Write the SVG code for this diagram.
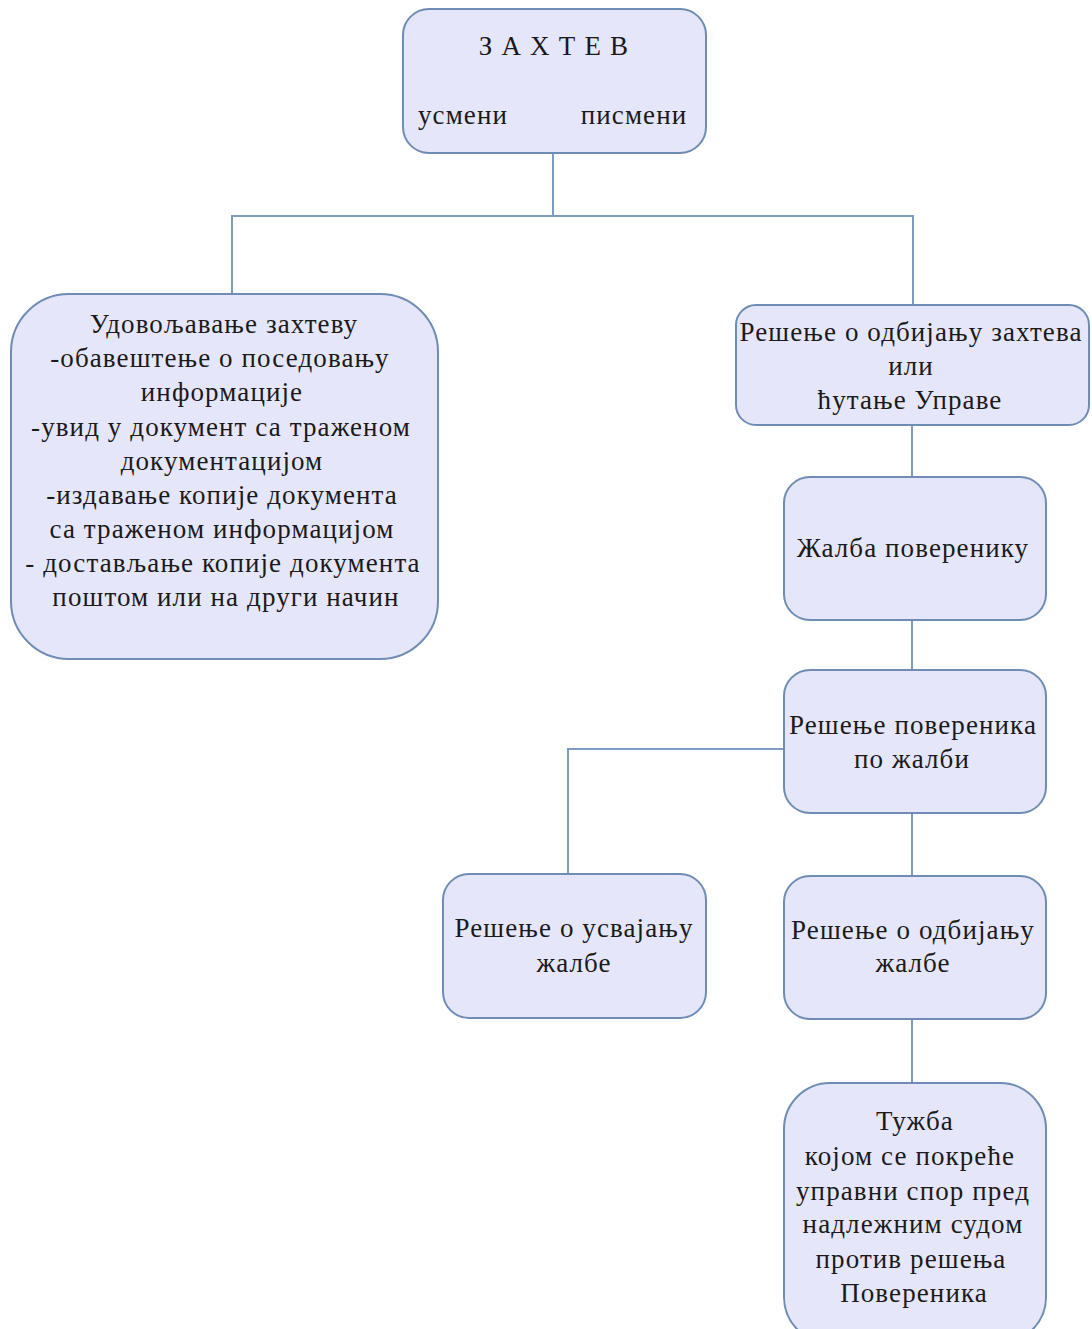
<svg xmlns="http://www.w3.org/2000/svg" width="1092" height="1329" viewBox="0 0 1092 1329">
<style>
.box{fill:#e6e6fa;stroke:#6f8cb4;stroke-width:2}
.ln{fill:none;stroke:#7f9cc0;stroke-width:2}
text{font-family:"Liberation Serif","Times New Roman",serif;font-size:27px;letter-spacing:1.1px;fill:#1a1a1a;text-anchor:middle}
</style>
<rect width="1092" height="1329" fill="#ffffff"/>
<g id="connectors">
<path class="ln" d="M553,153 V216 M232,295 V216 H913 V305"/>
<path class="ln" d="M912,425 V477"/>
<path class="ln" d="M912,620 V670"/>
<path class="ln" d="M784,749 H568 V874"/>
<path class="ln" d="M912,813 V876"/>
<path class="ln" d="M912,1019 V1083"/>
</g>
<g id="zahtev">
<rect class="box" x="403" y="9" width="303" height="144" rx="26"/>
<text x="554" y="55" style="letter-spacing:1.2px">З А Х Т Е В</text>
<text x="463" y="124">усмени</text>
<text x="634" y="124">писмени</text>
</g>
<g id="udovoljavanje">
<rect class="box" x="11" y="294" width="427" height="365" rx="58"/>
<text x="224" y="333">Удовољавање захтеву</text>
<text x="220" y="367">-обавештење о поседовању</text>
<text x="222" y="401">информације</text>
<text x="221" y="436">-увид у документ са траженом</text>
<text x="222" y="470">документацијом</text>
<text x="222" y="504">-издавање копије документа</text>
<text x="222" y="538">са траженом информацијом</text>
<text x="223" y="572">- достављање копије документа</text>
<text x="226" y="606">поштом или на други начин</text>
</g>
<g id="odbijanje-zahteva">
<rect class="box" x="736" y="305" width="353" height="120" rx="20"/>
<text x="911" y="341">Решење о одбијању захтева</text>
<text x="911" y="375">или</text>
<text x="910" y="409">ћутање Управе</text>
</g>
<g id="zalba">
<rect class="box" x="784" y="477" width="262" height="143" rx="26"/>
<text x="913" y="557">Жалба поверенику</text>
</g>
<g id="resenje-poverenika">
<rect class="box" x="784" y="670" width="262" height="143" rx="26"/>
<text x="913" y="734">Решење повереника</text>
<text x="912" y="768">по жалби</text>
</g>
<g id="usvajanje">
<rect class="box" x="443" y="874" width="263" height="144" rx="26"/>
<text x="574" y="937">Решење о усвајању</text>
<text x="574" y="972">жалбе</text>
</g>
<g id="odbijanje-zalbe">
<rect class="box" x="784" y="876" width="262" height="143" rx="26"/>
<text x="913" y="939">Решење о одбијању</text>
<text x="913" y="972">жалбе</text>
</g>
<g id="tuzba">
<rect class="box" x="784" y="1083" width="262" height="260" rx="46"/>
<text x="915" y="1130">Тужба</text>
<text x="910" y="1165">којом се покреће</text>
<text x="913" y="1200">управни спор пред</text>
<text x="913" y="1233">надлежним судом</text>
<text x="911" y="1268">против решења</text>
<text x="914" y="1302">Повереника</text>
</g>
</svg>
